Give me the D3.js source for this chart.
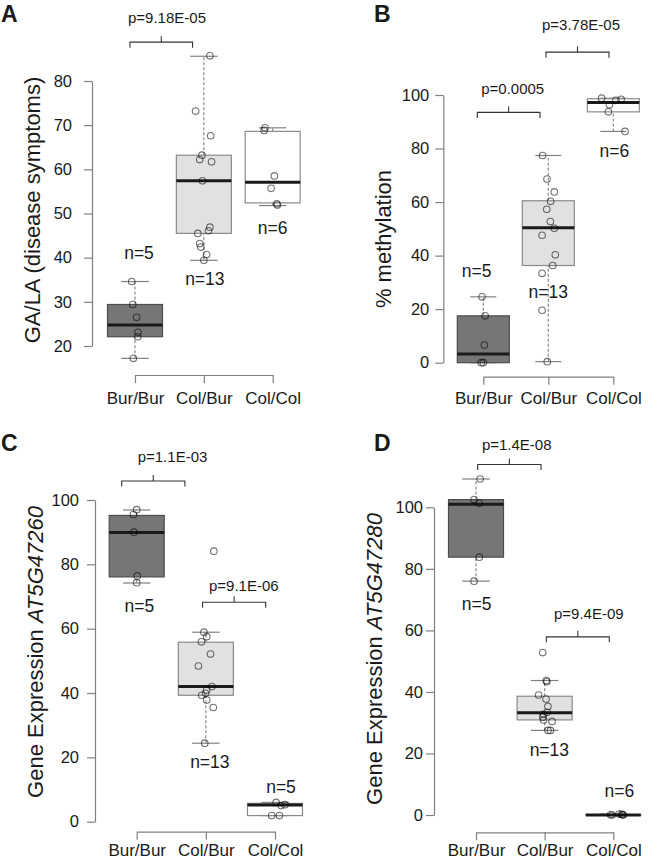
<!DOCTYPE html>
<html>
<head>
<meta charset="utf-8">
<script src="https://cdn.jsdelivr.net/npm/d3@7"></script>
<style>
  body { margin: 0; background: #fff; }
  svg text { font-family: "Liberation Sans", Arial, Helvetica, sans-serif; fill: #1a1a1a; }
</style>
</head>
<body>
<div id="chart"></div>
<script>
// categories shared by all four panels
var categories = ["Bur/Bur", "Col/Bur", "Col/Col"];

// ---- A: GA/LA (disease symptoms)
var gaBurBur = [34.6, 29.4, 26.5, 23.1, 22.1, 17.2];
var gaColBur = [85.7, 73.2, 67.6, 63.2, 62.2, 61.7, 57.4, 46.9, 46.1, 45.5, 43.2, 42.4, 40.7, 39.4];
var gaColCol = [69.4, 68.8, 58.5, 55.7, 52.2, 51.9];
// [whisker low, q1, median, q3, whisker high]
var gaBox = [[17.2, 22.1, 24.75, 29.4, 34.6], [39.4, 45.5, 57.4, 63.2, 85.6], [51.8, 52.4, 57.1, 68.6, 69.4]];
var gaN = ["n=5", "n=13", "n=6"];
var gaNy = [39.6, 33.7, 45.3];
var gaTicks = [20, 30, 40, 50, 60, 70, 80];

// ---- B: % methylation
var metBurBur = [24.6, 17.5, 6.6, 0, 0];
var metColBur = [77.4, 68.6, 63.8, 60.3, 57.3, 52.7, 50.2, 47.6, 40.3, 36.3, 33.4, 19.6, 0.4];
var metColCol = [98.8, 98.4, 98.0, 96.4, 93.7, 86.4];
var metBox = [[0, 0, 3.25, 17.5, 24.6], [0.4, 36.3, 50.4, 60.5, 77.4], [86.4, 93.7, 97.2, 98.6, 98.8]];
var metN = ["n=5", "n=13", "n=6"];
var metNy = [32.0, 24.2, 76.9];
var metTicks = [0, 20, 40, 60, 80, 100];

// ---- C: AT5G47260 expression
var e260BurBur = [97.0, 95.5, 90.0, 76.4, 74.3];
var e260ColBur = [84.1, 58.9, 57.5, 55.9, 52.1, 48.4, 42.0, 40.9, 39.9, 39.3, 37.8, 35.5, 24.4];
var e260ColCol = [6.0, 5.3, 5.0, 1.9, 1.9];
var e260Box = [[74.2, 76.1, 89.9, 95.2, 96.9], [24.4, 39.3, 42.0, 55.8, 58.9], [1.9, 1.9, 5.2, 5.7, 6.0]];
var e260N = ["n=5", "n=13", "n=5"];
var e260Ny = [65.2, 16.7, 8.9];

// ---- D: AT5G47280 expression
var e280BurBur = [109.2, 102.5, 101.3, 83.8, 76.0];
var e280ColBur = [52.8, 43.7, 43.3, 39.0, 37.7, 35.3, 33.4, 32.7, 31.8, 30.9, 30.4, 27.5, 27.5];
var e280ColCol = [0.0, 0.3, 0.1, 0.0, 0.05, 0.2];
var e280Box = [[76.0, 83.8, 101.0, 102.5, 109.2], [27.5, 30.9, 33.2, 38.6, 43.7], [0, 0, 0, 0.1, 0.3]];
var e280N = ["n=5", "n=13", "n=6"];
var e280Ny = [66.6, 19.2, 5.8];
var exprTicks = [0, 20, 40, 60, 80, 100];

// p-values: label, y (data units)
var gaP = [{label: "p=9.18E-05", y: 88.8}];
var metP = [{label: "p=0.0005", y: 93.5}, {label: "p=3.78E-05", y: 116.0}];
var e260P = [{label: "p=1.1E-03", y: 105.9}, {label: "p=9.1E-06", y: 68.2}];
var e280P = [{label: "p=1.4E-08", y: 113.9}, {label: "p=9.4E-09", y: 57.9}];

// horizontal jitter of the points, as a fraction of half a box width
var jitter = {
  ga: [[-0.12, -0.08, 0.06, 0.11, 0.10, -0.06],
       [0.22, -0.30, 0.25, -0.07, -0.15, 0.28, -0.05, 0.22, 0.17, -0.22, -0.15, -0.11, 0.10, 0],
       [-0.28, -0.31, 0.06, -0.06, 0.15, 0.17]],
  met: [[-0.05, 0.07, 0.04, -0.08, 0.0],
        [-0.22, -0.05, 0.23, 0.09, -0.06, 0.08, 0.23, -0.24, 0.27, 0.17, -0.24, -0.24, -0.04],
        [-0.45, 0.30, 0.10, -0.15, -0.19, 0.45]],
  e260: [[0, -0.12, -0.10, 0.02, 0],
         [0.29, -0.07, 0.03, -0.16, 0.17, -0.27, 0.22, 0.03, -0.01, -0.15, 0.03, 0.27, -0.04],
         [0.04, 0.36, 0.22, -0.12, 0.16]],
  e280: [[0.15, -0.07, 0.11, 0.12, -0.07],
         [-0.07, 0.06, 0.08, -0.22, 0.05, 0.12, 0.09, -0.04, -0.07, -0.04, 0.27, 0.12, 0.21],
         [-0.04, 0.21, 0.34, 0.36, -0.1, 0.3]]
};

var fills = ["#767676", "#e1e1e2", "#ffffff"];
var borders = ["#4d4d4d", "#8a8a8a", "#8a8a8a"];

var W = 658, H = 862;
var svg = d3.select("#chart").append("svg")
  .attr("width", W).attr("height", H);

var panels = [
  { letter: "A", lx: 1, ly: 22, groups: [gaBurBur, gaColBur, gaColCol], jit: jitter.ga, box: gaBox,
    n: gaN, ny: gaNy, ndx: [4, 1, 0], ticks: gaTicks, domain: [20, 80], yr: [346, 81],
    xr: [135, 272.7], axisX: 92, xAxisY: 375, xPad: 8.6, bw: 55, tickPad: 12,
    ylab: [{t: "GA/LA (disease symptoms)"}], ylx: 40, yly: 210,
    p: gaP, pb: [[0, -5, 1, -11.3, 167, 19.6]] },
  { letter: "B", lx: 374, ly: 22, groups: [metBurBur, metColBur, metColCol], jit: jitter.met, box: metBox,
    n: metN, ny: metNy, ndx: [-6.6, 0, 1], ticks: metTicks, domain: [0, 100], yr: [362.7, 95],
    xr: [483.3, 613.3], axisX: 443.3, xAxisY: 376.7, xPad: 7, bw: 52, tickPad: 6,
    ylab: [{t: "% methylation"}], ylx: 391, yly: 239,
    p: metP, pb: [[0, -6, 1, -8.3, 512.7, 18.7], [1, -2.3, 2, -4.3, 581, 22.3]] },
  { letter: "C", lx: 1, ly: 451, groups: [e260BurBur, e260ColBur, e260ColCol], jit: jitter.e260, box: e260Box,
    n: e260N, ny: e260Ny, ndx: [2.6, 4, 6], ticks: exprTicks, domain: [0, 100], yr: [821.7, 500],
    xr: [136.7, 275], axisX: 95, xAxisY: 831.7, xPad: 4.6, bw: 55, tickPad: 8,
    ylab: [{t: "Gene Expression "}, {t: "AT5G47260", it: true}], ylx: 43, yly: 652,
    p: e260P, pb: [[0, -15, 1, -21, 172.5, 19.3], [1, -3.3, 2, -9.3, 243.8, 11.6]] },
  { letter: "D", lx: 374, ly: 451, groups: [e280BurBur, e280ColBur, e280ColCol], jit: jitter.e280, box: e280Box,
    n: e280N, ny: e280Ny, ndx: [0.7, 4.7, 6], ticks: exprTicks, domain: [0, 100], yr: [815, 507.3],
    xr: [476, 613.3], axisX: 434, xAxisY: 832.3, xPad: 4, bw: 55, tickPad: 3,
    ylab: [{t: "Gene Expression "}, {t: "AT5G47280", it: true}], ylx: 382, yly: 659,
    p: e280P, pb: [[0, 1.7, 1, -3.6, 516.7, 14.4], [1, 1.7, 2, -4, 588.8, 17.7]] }
];

panels.forEach(function(P) {
  var g = svg.append("g");
  var y = d3.scaleLinear().domain(P.domain).range(P.yr);
  var x = d3.scalePoint().domain(categories).range(P.xr);
  var jx = d3.scaleLinear().domain([-1, 1]).range([-P.bw / 2, P.bw / 2]);

  // y axis
  var ya = g.append("g")
    .attr("transform", "translate(" + P.axisX + ",0)")
    .call(d3.axisLeft(y).tickValues(P.ticks).tickSize(8).tickSizeOuter(0).tickPadding(P.tickPad));
  ya.selectAll("path, line").attr("stroke", "#808080").attr("stroke-width", 1.2);
  ya.selectAll("text").style("font-size", "16.5px").attr("fill", "#1a1a1a");

  // x axis
  var xa = g.append("g")
    .attr("transform", "translate(0," + P.xAxisY + ")")
    .call(d3.axisBottom(x).tickSize(8).tickSizeOuter(0).tickPadding(P.xPad));
  xa.selectAll("path, line").attr("stroke", "#808080").attr("stroke-width", 1.2);
  xa.selectAll("text").style("font-size", "17px").attr("fill", "#1a1a1a");

  // boxes
  categories.forEach(function(c, i) {
    var b = P.box[i], cx = x(c), bw = P.bw;
    // whiskers
    g.append("line").attr("x1", cx).attr("x2", cx).attr("y1", y(b[0])).attr("y2", y(b[1]))
      .attr("stroke", "#8a8a8a").attr("stroke-dasharray", "3,2").attr("stroke-width", 1.2);
    g.append("line").attr("x1", cx).attr("x2", cx).attr("y1", y(b[3])).attr("y2", y(b[4]))
      .attr("stroke", "#8a8a8a").attr("stroke-dasharray", "3,2").attr("stroke-width", 1.2);
    [b[0], b[4]].forEach(function(v) {
      g.append("line").attr("x1", cx - bw / 4).attr("x2", cx + bw / 4).attr("y1", y(v)).attr("y2", y(v))
        .attr("stroke", "#808080").attr("stroke-width", 1.2);
    });
    g.append("rect")
      .attr("x", cx - bw / 2).attr("width", bw)
      .attr("y", y(b[3])).attr("height", Math.max(0, y(b[1]) - y(b[3])))
      .attr("fill", fills[i]).attr("stroke", borders[i]).attr("stroke-width", 1.2);
    g.append("line").attr("x1", cx - bw / 2).attr("x2", cx + bw / 2).attr("y1", y(b[2])).attr("y2", y(b[2]))
      .attr("stroke", "#1a1a1a").attr("stroke-width", 3);

    // points
    g.selectAll(null).data(P.groups[i]).enter().append("circle")
      .attr("cx", function(d, k) { return cx + jx(P.jit[i][k]); })
      .attr("cy", function(d) { return y(d); })
      .attr("r", 3.3)
      .attr("fill", "none")
      .attr("stroke", "rgba(0,0,0,0.55)")
      .attr("stroke-width", 1.1);

    // n labels
    g.append("text").attr("x", cx + P.ndx[i]).attr("y", y(P.ny[i]))
      .attr("text-anchor", "middle").style("font-size", "17.5px").text(P.n[i]);
  });

  // p-value brackets
  P.p.forEach(function(pv, k) {
    var pb = P.pb[k];
    var x1 = x(categories[pb[0]]) + pb[1], x2 = x(categories[pb[2]]) + pb[3];
    var yy = y(pv.y), xm = (x1 + x2) / 2;
    g.append("path")
      .attr("d", "M" + x1 + "," + (yy + 5.5) + "V" + yy + "H" + x2 + "V" + (yy + 5.5) +
        "M" + xm + "," + yy + "V" + (yy - 6))
      .attr("fill", "none").attr("stroke", "#333").attr("stroke-width", 1.1);
    g.append("text").attr("x", pb[4]).attr("y", yy - pb[5])
      .attr("text-anchor", "middle").style("font-size", "15px").text(pv.label);
  });

  // y label
  var yl = g.append("text")
    .attr("transform", "translate(" + P.ylx + "," + P.yly + ") rotate(-90)")
    .attr("text-anchor", "middle").style("font-size", "22px");
  P.ylab.forEach(function(s) {
    yl.append("tspan").style("font-style", s.it ? "italic" : "normal").text(s.t);
  });

  // panel letter
  g.append("text").attr("x", P.lx).attr("y", P.ly)
    .style("font-size", "23px").style("font-weight", "bold").attr("fill", "#111").text(P.letter);
});
</script>
</body>
</html>
